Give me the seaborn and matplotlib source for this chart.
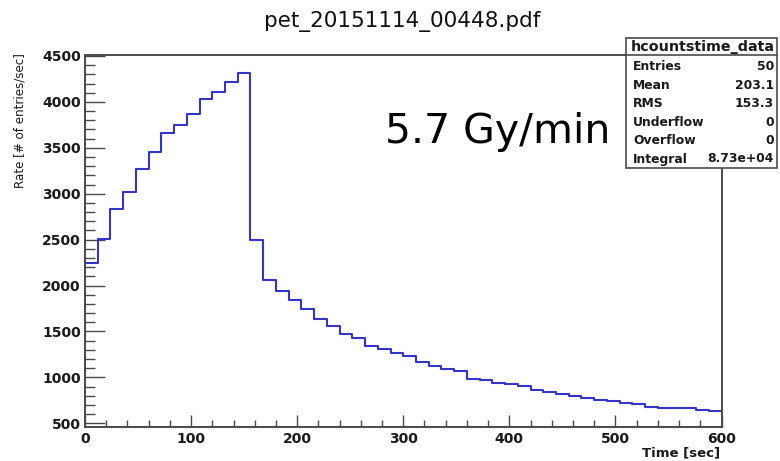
import numpy as np
import pandas as pd
import matplotlib
matplotlib.use("Agg")
import matplotlib.pyplot as plt
import seaborn as sns
from matplotlib.patches import Rectangle
from matplotlib.lines import Line2D
from matplotlib.ticker import MultipleLocator

# ---- data ----
bin_edges = list(range(0, 601, 12))  # 50 bins of 12 s
rates = [2250, 2510, 2830, 3020, 3265, 3450, 3657, 3751, 3871, 4028, 4108, 4213, 4318,
         2494, 2058, 1942, 1840, 1742, 1637, 1564, 1477, 1430, 1342, 1306, 1266, 1230,
         1168, 1124, 1096, 1066, 987,
         975, 939, 925, 911, 859, 845, 816, 802, 780, 754, 740, 716, 712, 675, 672, 670,
         668, 649, 631]
title = "pet_20151114_00448.pdf"
xlabel = "Time [sec]"
ylabel = "Rate [# of entries/sec]"
annotation = "5.7 Gy/min"
stats_name = "hcountstime_data"
stats_keys = ["Entries", "Mean", "RMS", "Underflow", "Overflow", "Integral"]
stats_vals = ["50", "203.1", "153.3", "0", "0", "8.73e+04"]

centers = [(a + b) / 2 for a, b in zip(bin_edges[:-1], bin_edges[1:])]
df = pd.DataFrame({"time": centers, "rate": rates})

sns.set_theme(style="ticks")
plt.rcParams["font.family"] = ["DejaVu Sans"]

BLUE = "#3434c8"
FRAME = "#4a4a4a"
TXT = "#1a1a1a"

W, H = 780, 461
fig = plt.figure(figsize=(W / 100, H / 100), dpi=100)
fig.patch.set_facecolor("white")
ax = fig.add_axes([85 / W, 1 - 427 / H, (721.5 - 85) / W, (427 - 54.7) / H])
ax.set_facecolor("white")

sns.histplot(data=df, x="time", weights="rate", bins=bin_edges, element="step",
             fill=False, color=BLUE, linewidth=1.5, ax=ax)

ax.set_xlim(0, 600)
ax.set_ylim(460, 4514)
ax.set_xlabel("")
ax.set_ylabel("")
ax.grid(False)

ax.xaxis.set_major_locator(MultipleLocator(100))
ax.xaxis.set_minor_locator(MultipleLocator(20))
ax.yaxis.set_major_locator(MultipleLocator(500))
ax.yaxis.set_minor_locator(MultipleLocator(100))

ax.tick_params(axis="y", which="major", direction="in", length=14.4, width=1.0,
               color=FRAME, labelsize=10, pad=3, labelcolor=TXT)
ax.tick_params(axis="y", which="minor", direction="in", length=7.2, width=1.0, color=FRAME)
ax.tick_params(axis="x", which="major", direction="in", length=8.6, width=1.0,
               color=FRAME, labelsize=10, pad=3.5, labelcolor=TXT)
ax.tick_params(axis="x", which="minor", direction="in", length=5.0, width=1.0, color=FRAME)
ax.tick_params(top=False, right=False, which="both")
for lab in ax.get_xticklabels() + ax.get_yticklabels():
    lab.set_fontweight("bold")

for s in ax.spines.values():
    s.set_color(FRAME)
    s.set_linewidth(1.4)

# titles / labels
fig.text(402 / W, 1 - 26.7 / H, title, ha="center", va="baseline", fontsize=15.5,
         color="#111111")
fig.text(720 / W, 1 - 453 / H, xlabel, ha="right", va="center", fontsize=9.5,
         color=TXT, fontweight="bold")
fig.text(20 / W, 1 - 53 / H, ylabel, ha="center", va="top", rotation=90, fontsize=8.6,
         color=TXT)
fig.text(385 / W, 1 - 143 / H, annotation, ha="left", va="baseline", fontsize=29.5,
         color="black")

# stats box
bx0, bx1, by0, by1 = 626, 777, 38, 168
fig.patches.append(Rectangle((bx0 / W, 1 - by1 / H), (bx1 - bx0) / W, (by1 - by0) / H,
                             transform=fig.transFigure, facecolor="white",
                             edgecolor=FRAME, linewidth=1.2, zorder=5))
fig.lines.append(Line2D([bx0 / W, bx1 / W], [1 - 55 / H, 1 - 55 / H],
                        transform=fig.transFigure, color=FRAME, linewidth=1.2, zorder=6))
fig.text((bx0 + bx1) / 2 / W + 0.002, 1 - 47.5 / H, stats_name, ha="center", va="center",
         fontsize=10.3, color=TXT, fontweight="bold", zorder=7)
row_y = [66.5, 85, 103.5, 122, 140.5, 159]
for k, v, y in zip(stats_keys, stats_vals, row_y):
    fig.text(633 / W, 1 - y / H, k, ha="left", va="center", fontsize=8.9, color=TXT,
             fontweight="bold", zorder=7)
    fig.text(774 / W, 1 - y / H, v, ha="right", va="center", fontsize=8.9, color=TXT,
             fontweight="bold", zorder=7)

fig.savefig("out.png", dpi=100, facecolor="white")
